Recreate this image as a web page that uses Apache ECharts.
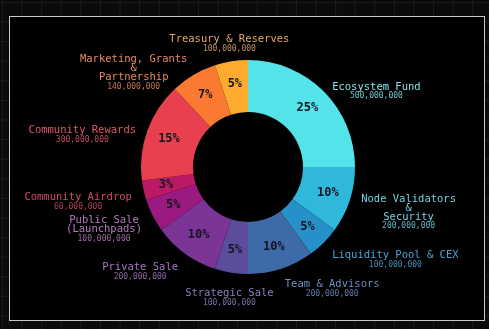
<!DOCTYPE html>
<html>
<head>
<meta charset="utf-8">
<script src="https://cdn.jsdelivr.net/npm/echarts@6/dist/echarts.min.js"></script>
<style>
  html, body { margin: 0; padding: 0; width: 489px; height: 329px; overflow: hidden; }
  body {
    background-color: #0b0b0b;
    background-image:
      linear-gradient(to right, #1b1b1b 1px, transparent 1px),
      linear-gradient(to bottom, #1b1b1b 1px, transparent 1px);
    background-size: 19.6px 19.6px;
    background-position: 2px 2px;
  }
  #box {
    position: absolute; left: 9px; top: 16px; width: 474px; height: 303px;
    background: #000; border: 1px solid #c8c8c8;
  }
  #chart { width: 474px; height: 303px; }
</style>
</head>
<body>
<div id="box"><div id="chart"></div></div>
<script>
const categories = [
  "Ecosystem Fund",
  "Node Validators\n&\nSecurity",
  "Liquidity Pool & CEX",
  "Team & Advisors",
  "Strategic Sale",
  "Private Sale",
  "Public Sale\n(Launchpads)",
  "Community Airdrop",
  "Community Rewards",
  "Marketing, Grants\n&\nPartnership",
  "Treasury & Reserves"
];
const values = [500000000, 200000000, 100000000, 200000000, 100000000, 200000000, 100000000, 60000000, 300000000, 140000000, 100000000];
const sliceColors = ["#55e3ea", "#2fb8dc", "#2690c8", "#3f6aa8", "#5b4c9c", "#7b3596", "#9a1a80", "#bb1a64", "#e8404f", "#fa7a32", "#fcab2e"];
const labelColors = ["#7fe4ea", "#74d2e2", "#4aa4d4", "#6e90c4", "#8a82c4", "#a47ac4", "#b67cbc", "#d24a6a", "#e05a68", "#e88a62", "#e8a866"];

const CX = 238, CY = 150, R0 = 55, R1 = 107;
const LABEL_GAP = 12, SIDE_DROP = 9, CENTER_DROP = 4;

const chart = echarts.init(document.getElementById('chart'), null, { renderer: 'canvas' });
const mono = '"DejaVu Sans Mono", "Liberation Mono", monospace';

const total = values.reduce((a, b) => a + b, 0);
const midAngles = [];
{
  let acc = 0;
  values.forEach(v => { midAngles.push((acc + v / 2) / total * 2 * Math.PI); acc += v; });
}

const data = categories.map((name, i) => ({
  name: name,
  value: values[i],
  itemStyle: { color: sliceColors[i] },
  label: {
    rich: {
      n: { color: labelColors[i], fontFamily: mono, fontSize: 10.5, lineHeight: 9, align: 'center' },
      v: { color: labelColors[i], fontFamily: mono, fontSize: 8, lineHeight: 10, align: 'center', opacity: 0.85 }
    }
  }
}));

chart.setOption({
  backgroundColor: 'transparent',
  animation: false,
  series: [
    {
      type: 'pie',
      center: [CX, CY],
      radius: [R0, R1],
      startAngle: 90,
      clockwise: true,
      avoidLabelOverlap: false,
      data: data,
      label: {
        show: true,
        position: 'outside',
        formatter: p => '{n|' + p.name + '}\n{v|' + p.value.toLocaleString('en-US') + '}'
      },
      labelLine: { show: false },
      labelLayout: function (params) {
        const a = midAngles[params.dataIndex];
        const s = Math.sin(a), c = Math.cos(a);
        const r = R1 + LABEL_GAP;
        const x = CX + r * s, y = CY - r * c;
        if (Math.abs(s) < 0.3) {
          return { x: x, y: y + CENTER_DROP, align: 'center', verticalAlign: c > 0 ? 'bottom' : 'top' };
        }
        return { x: x, y: y + SIDE_DROP, align: s > 0 ? 'left' : 'right', verticalAlign: 'middle' };
      }
    },
    {
      type: 'pie',
      center: [CX, CY],
      radius: [R0, R1],
      startAngle: 90,
      clockwise: true,
      silent: true,
      data: categories.map((name, i) => ({ name: name, value: values[i], itemStyle: { color: 'transparent' } })),
      label: {
        show: true,
        position: 'inside',
        formatter: p => Math.round(p.percent) + '%',
        color: '#141420',
        fontFamily: mono,
        fontWeight: 'bold',
        fontSize: 12
      },
      labelLine: { show: false }
    }
  ]
});
</script>
</body>
</html>
